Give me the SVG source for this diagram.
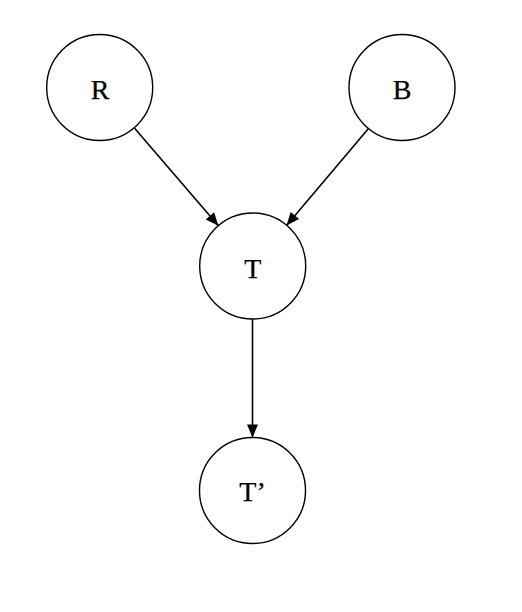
<svg xmlns="http://www.w3.org/2000/svg" width="522" height="612" viewBox="0 0 522 612">
<style>
.node circle{fill:#fff;stroke:#000;stroke-width:1.4}
.node text{font-family:"Liberation Serif",serif;font-size:28px;text-anchor:middle;fill:#000;stroke:#000;stroke-width:0.25}
.edge{stroke:#000;stroke-width:1.6;fill:none;marker-end:url(#arr)}
</style>
<defs>
<marker id="arr" refX="13" refY="0" markerWidth="14" markerHeight="14" markerUnits="userSpaceOnUse" orient="auto" style="overflow:visible">
<path d="M0,-5.5 L13,0 L0,5.5 z" fill="#000"/>
</marker>
</defs>
<rect width="522" height="612" fill="#fff"/>
<g id="connectors">
<line class="edge" x1="134.6" y1="128.2" x2="218.4" y2="225.8"/>
<line class="edge" x1="368.5" y1="128.5" x2="286.5" y2="225.5"/>
<line class="edge" x1="252.5" y1="319" x2="252.5" y2="437.5"/>
</g>
<g id="R" class="node"><circle cx="99.7" cy="87.5" r="53"/><text x="100" y="99">R</text></g>
<g id="B" class="node"><circle cx="402" cy="87.5" r="53"/><text x="402" y="99">B</text></g>
<g id="T" class="node"><circle cx="252.7" cy="266" r="53"/><text x="252.7" y="278">T</text></g>
<g id="Tp" class="node"><circle cx="252.5" cy="490.5" r="53"/><text x="252.5" y="501">T’</text></g>
</svg>
